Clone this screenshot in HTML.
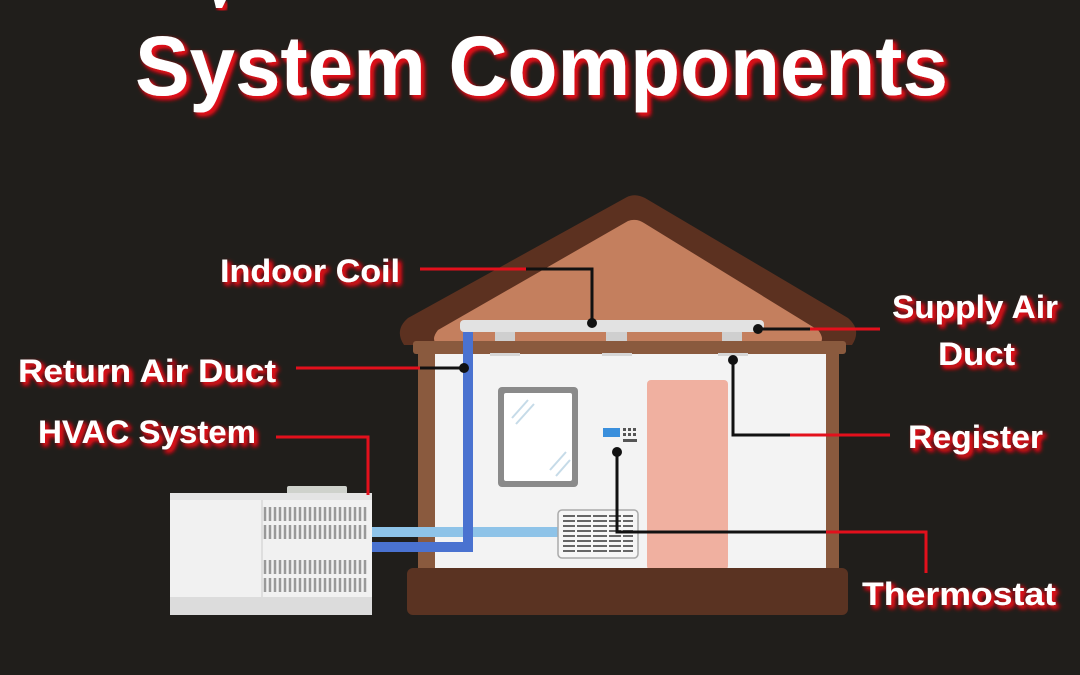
<!DOCTYPE html>
<html><head><meta charset="utf-8"><style>
html,body{margin:0;padding:0;background:#201e1b;}
svg{display:block}
text{font-family:"Liberation Sans",sans-serif;font-weight:bold;fill:#fff}
</style></head><body>
<svg width="1080" height="675" viewBox="0 0 1080 675" xmlns="http://www.w3.org/2000/svg">
<defs>
<filter id="g" x="-10%" y="-30%" width="120%" height="160%">
<feGaussianBlur in="SourceAlpha" stdDeviation="2.5" result="b"/>
<feOffset in="b" dx="3" dy="3" result="o"/>
<feFlood flood-color="#e3101c"/>
<feComposite in2="o" operator="in" result="s"/>
<feMerge><feMergeNode in="s"/><feMergeNode in="s"/><feMergeNode in="SourceGraphic"/></feMerge>
</filter>
</defs>
<rect width="1080" height="675" fill="#201e1b"/>
<!-- title -->
<text x="135" y="95" font-size="84" textLength="813" lengthAdjust="spacingAndGlyphs" filter="url(#g)">System Components</text>
<path d="M214 0 h12 l-4 8 h-6z" fill="#fff" filter="url(#g)"/>

<!-- roof -->
<path d="M627 197 Q635 193 645 198 L848 318 Q862 330 852 345 L404 345 Q394 330 408 318 Z" fill="#5c3120"/>
<path d="M628 221 Q636 218 644 223 L818 330 Q826 340 818 345 L438 345 Q430 340 438 330 Z" fill="#c47f5e"/>
<!-- eave beam -->
<rect x="413" y="341" width="433" height="13" rx="3" fill="#8a5a3e"/>
<!-- walls -->
<rect x="418" y="352" width="421" height="222" fill="#8a5a3e"/>
<rect x="435" y="354" width="391" height="216" fill="#f3f3f3"/>
<!-- door -->
<rect x="647" y="380" width="81" height="190" rx="4" fill="#f0b0a0"/>
<!-- window -->
<rect x="498" y="387" width="80" height="100" rx="4" fill="#8a8a8a"/>
<rect x="504" y="393" width="68" height="88" rx="2" fill="#fff"/>
<path d="M512 418 L528 400 M516 424 L534 404 M550 470 L566 452 M556 476 L570 460" stroke="#c6dbe8" stroke-width="2"/>
<!-- supply duct -->
<rect x="460" y="320" width="304" height="12" rx="4" fill="#e2e2e2"/>
<rect x="495" y="332" width="20" height="9" fill="#cfcfcf"/>
<rect x="606" y="332" width="21" height="9" fill="#cfcfcf"/>
<rect x="722" y="332" width="20" height="9" fill="#cfcfcf"/>
<rect x="490" y="353" width="30" height="3" fill="#d6d6d6"/>
<rect x="602" y="353" width="30" height="3" fill="#d6d6d6"/>
<rect x="718" y="353" width="30" height="3" fill="#d6d6d6"/>
<!-- thermostat -->
<rect x="603" y="428" width="17" height="9" fill="#3a8fdc"/>
<g fill="#555">
<rect x="623" y="428" width="3" height="3"/><rect x="628" y="428" width="3" height="3"/><rect x="633" y="428" width="3" height="3"/>
<rect x="623" y="433" width="3" height="3"/><rect x="628" y="433" width="3" height="3"/><rect x="633" y="433" width="3" height="3"/>
<rect x="623" y="439" width="14" height="3"/>
</g>
<!-- foundation -->
<rect x="407" y="568" width="441" height="47" rx="6" fill="#5a3322"/>
<!-- pipes -->
<rect x="370" y="527" width="192" height="10" fill="#8ec3e8"/>
<path d="M468 332 V547 H370" fill="none" stroke="#4a72d0" stroke-width="10"/>
<!-- register grille -->
<rect x="558" y="510" width="80" height="48" rx="4" fill="#f6f6f6" stroke="#aaa" stroke-width="1.5"/>
<g stroke="#666" stroke-width="2">
<path d="M563 516 H633 M563 521 H633 M563 526 H633 M563 531 H633 M563 536 H633 M563 541 H633 M563 546 H633 M563 551 H633"/>
</g>
<g stroke="#f6f6f6" stroke-width="2"><path d="M576 514 V555 M592 514 V555 M608 514 V555 M622 514 V555"/></g>
<!-- HVAC unit -->
<rect x="287" y="486" width="60" height="10" rx="2" fill="#cfd2cc"/>
<rect x="170" y="493" width="202" height="122" fill="#f1f1f1"/>
<rect x="170" y="493" width="202" height="7" fill="#e4e4e4"/>
<rect x="170" y="597" width="202" height="18" fill="#dcdcdc"/>
<line x1="262" y1="500" x2="262" y2="597" stroke="#ccc"/>
<g stroke="#999" stroke-width="2.5">
<path id="v1" d="M265 507 V521 M270 507 V521 M275 507 V521 M280 507 V521 M285 507 V521 M290 507 V521 M295 507 V521 M300 507 V521 M305 507 V521 M310 507 V521 M315 507 V521 M320 507 V521 M325 507 V521 M330 507 V521 M335 507 V521 M340 507 V521 M345 507 V521 M350 507 V521 M355 507 V521 M360 507 V521 M365 507 V521"/>
<use href="#v1" y="18"/><use href="#v1" y="53"/><use href="#v1" y="71"/>
</g>
<!-- connectors -->
<g fill="none" stroke-width="3">
<path d="M420 269 H526" stroke="#e3101c"/>
<path d="M526 269 H592 V323" stroke="#111"/>
<path d="M296 368 H420" stroke="#e3101c"/>
<path d="M420 368 H464" stroke="#111"/>
<path d="M276 437 H368 V495" stroke="#e3101c"/>
<path d="M758 329 H810" stroke="#111"/>
<path d="M810 329 H880" stroke="#e3101c"/>
<path d="M733 360 V435 H790" stroke="#111"/>
<path d="M790 435 H890" stroke="#e3101c"/>
<path d="M617 452 V532 H826" stroke="#111"/>
<path d="M826 532 H926 V573" stroke="#e3101c"/>
</g>
<g fill="#111">
<circle cx="592" cy="323" r="5"/><circle cx="464" cy="368" r="5"/>
<circle cx="758" cy="329" r="5"/><circle cx="733" cy="360" r="5"/><circle cx="617" cy="452" r="5"/>
</g>
<!-- labels -->
<g font-size="32" filter="url(#g)">
<text x="220" y="282" textLength="180" lengthAdjust="spacingAndGlyphs">Indoor Coil</text>
<text x="18" y="382" textLength="258" lengthAdjust="spacingAndGlyphs">Return Air Duct</text>
<text x="38" y="443" textLength="218" lengthAdjust="spacingAndGlyphs">HVAC System</text>
<text x="892" y="318" textLength="166" lengthAdjust="spacingAndGlyphs">Supply Air</text>
<text x="938" y="365" textLength="77" lengthAdjust="spacingAndGlyphs">Duct</text>
<text x="908" y="448" textLength="135" lengthAdjust="spacingAndGlyphs">Register</text>
<text x="862" y="605" textLength="194" lengthAdjust="spacingAndGlyphs">Thermostat</text>
</g>
</svg>
</body></html>
